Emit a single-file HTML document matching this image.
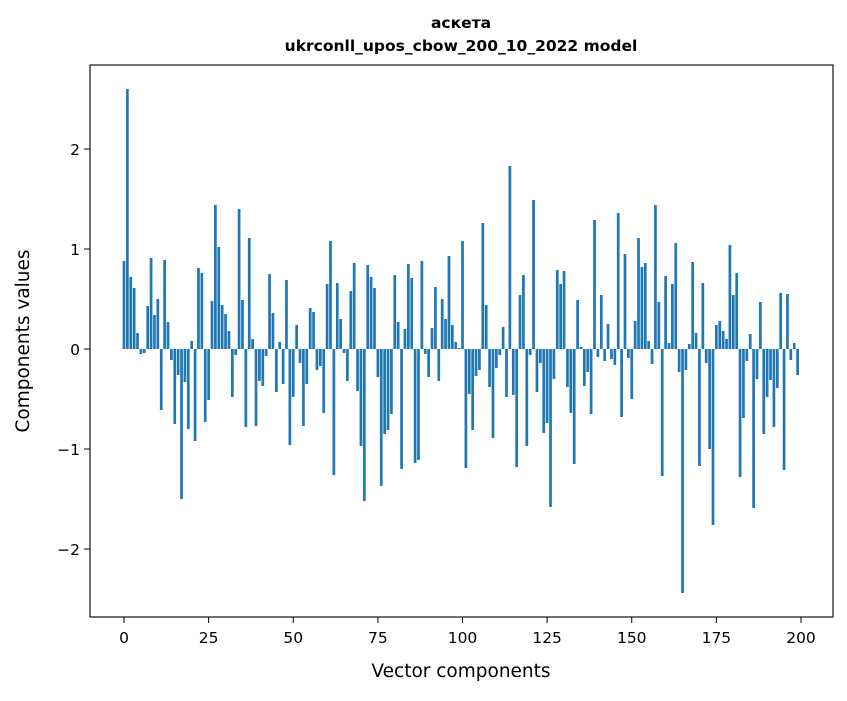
<!DOCTYPE html>
<html><head><meta charset="utf-8"><style>
body{margin:0;background:#fff;}
svg text{font-family:"DejaVu Sans","Liberation Sans",sans-serif;}
</style></head><body>
<svg id="chart" width="847" height="696" viewBox="0 0 847 696">
<rect x="0" y="0" width="847" height="696" fill="#fff"/>
<text x="461" y="28" text-anchor="middle" font-size="15.5" font-weight="bold">аскета</text>
<text x="461" y="51" text-anchor="middle" font-size="15.5" font-weight="bold">ukrconll_upos_cbow_200_10_2022 model</text>
<g id="bars"></g>
<g id="xticks"></g>
<g id="yticks"></g>
<rect x="90" y="65" width="743" height="552" fill="none" stroke="#000" stroke-width="1.1"/>
<text x="461" y="677" text-anchor="middle" font-size="18.5">Vector components</text>
<text transform="translate(29,341) rotate(-90)" text-anchor="middle" font-size="18.5">Components values</text>
</svg>
<script>
const values = [0.88,2.6,0.72,0.61,0.16,-0.05,-0.04,0.43,0.91,0.34,0.5,-0.61,0.89,0.27,-0.11,-0.75,-0.26,-1.5,-0.33,-0.8,0.08,-0.92,0.81,0.76,-0.73,-0.51,0.48,1.44,1.02,0.44,0.35,0.18,-0.48,-0.06,1.4,0.49,-0.78,1.11,0.1,-0.77,-0.32,-0.37,-0.07,0.75,0.36,-0.43,0.07,-0.35,0.69,-0.96,-0.48,0.24,-0.14,-0.77,-0.35,0.41,0.37,-0.21,-0.17,-0.64,0.65,1.08,-1.26,0.66,0.3,-0.04,-0.32,0.58,0.86,-0.42,-0.97,-1.52,0.84,0.72,0.61,-0.28,-1.37,-0.85,-0.81,-0.65,0.74,0.27,-1.2,0.2,0.85,0.71,-1.14,-1.11,0.88,-0.05,-0.28,0.21,0.62,-0.32,0.5,0.3,0.93,0.24,0.07,0.01,1.08,-1.19,-0.45,-0.81,-0.27,-0.21,1.26,0.44,-0.38,-0.89,-0.19,-0.06,0.22,-0.48,1.83,-0.46,-1.18,0.54,0.74,-0.97,-0.06,1.49,-0.43,-0.14,-0.84,-0.74,-1.58,-0.3,0.79,0.65,0.78,-0.38,-0.64,-1.15,0.49,0.02,-0.37,-0.23,-0.65,1.29,-0.08,0.54,-0.12,0.25,-0.1,-0.16,1.36,-0.68,0.95,-0.09,-0.5,0.28,1.11,0.82,0.86,0.08,-0.15,1.44,0.47,-1.27,0.73,0.06,0.65,1.06,-0.23,-2.44,-0.21,0.05,0.87,0.16,-1.17,0.66,-0.14,-1.0,-1.76,0.24,0.28,0.18,0.1,1.04,0.54,0.76,-1.28,-0.69,-0.12,0.15,-1.59,-0.3,0.47,-0.85,-0.48,-0.31,-0.78,-0.39,0.56,-1.21,0.55,-0.11,0.06,-0.26];
const xTickValues = [0,25,50,75,100,125,150,175,200];
const yTickValues = [-2,-1,0,1,2];
const yTickLabels = ["\u22122","\u22121","0","1","2"];

const X0=124, XS=3.385, Y0=349, YS=100;
const xScale = v => X0 + v*XS;
const yScale = v => Y0 - v*YS;
const NS="http://www.w3.org/2000/svg";
const bars=document.getElementById('bars');
values.forEach((v,i)=>{
  const r=document.createElementNS(NS,'rect');
  const y1=yScale(Math.max(v,0)), y2=yScale(Math.min(v,0));
  r.setAttribute('x', xScale(i-0.4));
  r.setAttribute('width', XS*0.8);
  r.setAttribute('y', y1);
  r.setAttribute('height', Math.max(y2-y1,0.3));
  r.setAttribute('fill','#1f77b4');
  
  
  bars.appendChild(r);
});
const xt=document.getElementById('xticks');
xTickValues.forEach(t=>{
  const x=xScale(t);
  const l=document.createElementNS(NS,'line');
  l.setAttribute('x1',x);l.setAttribute('x2',x);l.setAttribute('y1',617);l.setAttribute('y2',623);
  l.setAttribute('stroke','#000');
  
  
  xt.appendChild(l);
  const tx=document.createElementNS(NS,'text');
  tx.setAttribute('x',x);tx.setAttribute('y',643);tx.setAttribute('text-anchor','middle');tx.setAttribute('font-size','15.5');
  tx.textContent=String(t);
  
  
  xt.appendChild(tx);
});
const yt=document.getElementById('yticks');
yTickValues.forEach((t,i)=>{
  const y=yScale(t);
  const l=document.createElementNS(NS,'line');
  l.setAttribute('x1',84);l.setAttribute('x2',90);l.setAttribute('y1',y);l.setAttribute('y2',y);
  l.setAttribute('stroke','#000');
  
  
  yt.appendChild(l);
  const tx=document.createElementNS(NS,'text');
  tx.setAttribute('x',80);tx.setAttribute('y',y+6);tx.setAttribute('text-anchor','end');tx.setAttribute('font-size','15.5');
  tx.textContent=yTickLabels[i];
  
  
  yt.appendChild(tx);
});
</script>
</body></html>
